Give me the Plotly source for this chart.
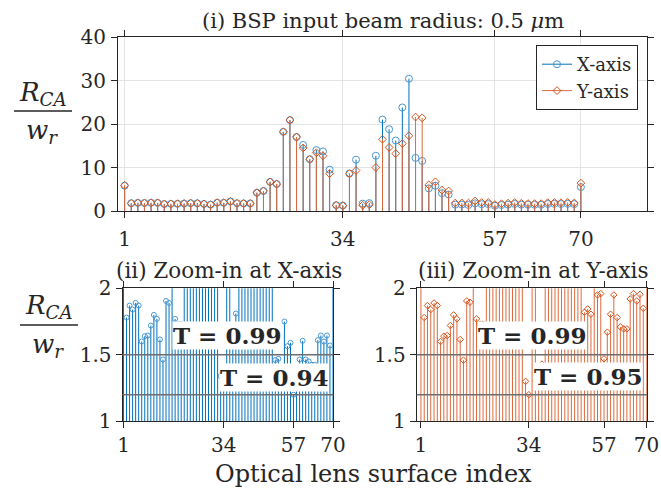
import plotly.graph_objects as go

# ---------------- data ----------------
surface_index = list(range(1, 71))
x_axis_ratio = [5.8, 1.78, 1.87, 1.84, 1.89, 1.87, 1.60, 1.64, 1.645, 1.72,
                1.80, 1.77, 1.615, 1.465, 1.905, 1.89, 2.2, 1.77, 1.73, 1.73,
                4.2, 4.6, 6.7, 6.2, 18.2, 20.9, 17.0, 15.2, 11.9, 14.0,
                13.7, 9.5, 1.34, 1.25, 8.6, 11.8, 1.69, 1.81, 12.7, 21.0,
                18.8, 16.2, 23.8, 30.4, 12.2, 11.5, 5.2, 5.8, 4.1, 3.8,
                1.46, 1.47, 1.39, 1.75, 1.565, 1.59, 1.20, 1.37, 1.465, 1.605,
                1.465, 1.45, 1.425, 1.425, 1.61, 1.645, 1.60, 1.645, 1.57, 5.5]
y_axis_ratio = [5.9, 1.78, 1.87, 1.84, 1.89, 1.87, 1.60, 1.64, 1.645, 1.72,
                1.80, 1.77, 1.615, 1.46, 1.905, 1.895, 2.2, 1.77, 1.73, 1.73,
                4.2, 4.6, 6.7, 6.2, 18.2, 20.9, 17.0, 14.5, 11.9, 13.4,
                12.7, 8.6, 1.30, 1.20, 8.6, 9.3, 1.32, 1.43, 10.0, 16.5,
                14.6, 13.2, 15.5, 17.3, 21.6, 21.4, 6.0, 6.7, 4.8, 4.6,
                1.82, 1.845, 1.805, 2.3, 1.95, 1.96, 1.47, 1.67, 1.805, 1.95,
                1.78, 1.71, 1.695, 1.695, 1.92, 1.96, 1.905, 1.955, 1.85, 6.4]
x_tick_vals = [1, 34, 57, 70]
top_y_ticks = [0, 10, 20, 30, 40]
zoom_y_ticks = [1, 1.5, 2]
zoom_y_labels = ["1", "1.5", "2"]
thresholds = [1.5, 1.2]
x_thresh_labels = ["T = 0.99", "T = 0.94"]
y_thresh_labels = ["T = 0.99", "T = 0.95"]

# ---------------- style ----------------
W, H = 661, 494
FONT = "DejaVu Serif"
TXT = "#262626"
BLUE_LINE = "#0072BD"
BLUE_MK = "#4A98D3"
ORANGE_LINE = "#DD6A3C"
ORANGE_MK = "#D95319"


def px(x):
    return x / W


def py(y):
    return 1 - y / H


def stems(xs, vs, base=0.0):
    sx, sy = [], []
    for x, v in zip(xs, vs):
        sx += [x, x, None]
        sy += [base, v, None]
    return sx, sy


fig = go.Figure()

panels = [("x", "y", 7, 6, ("X-axis", "Y-axis")),
          ("x2", "y2", 5, 5, ("X-axis",)),
          ("x3", "y3", 5, 5, ("Y-axis",))]
series = [
    ("X-axis", x_axis_ratio, BLUE_LINE, BLUE_MK, "circle-open"),
    ("Y-axis", y_axis_ratio, ORANGE_LINE, ORANGE_MK, "diamond-open"),
]

for xa, ya, csize, dsize, names in panels:
    for name, vals, lc, mc, sym in series:
        if name not in names:
            continue
        sx, sy = stems(surface_index, vals)
        fig.add_trace(go.Scatter(x=sx, y=sy, mode="lines", xaxis=xa, yaxis=ya,
                                 line=dict(color=lc, width=1), showlegend=False,
                                 hoverinfo="skip"))
        fig.add_trace(go.Scatter(x=surface_index, y=vals, mode="markers", xaxis=xa, yaxis=ya,
                                 marker=dict(symbol=sym, size=csize if sym.startswith("circle") else dsize,
                                             color=mc, line=dict(color=mc, width=1)),
                                 showlegend=False, name=name))

# legend entries
for name, vals, lc, mc, sym in series:
    fig.add_trace(go.Scatter(x=[None], y=[None], mode="lines+markers", name=name,
                             line=dict(color=lc, width=1),
                             marker=dict(symbol=sym, size=7 if sym.startswith("circle") else 6,
                                         color=mc, line=dict(color=mc, width=1)),
                             xaxis="x", yaxis="y"))

axis_common = dict(showline=True, linecolor=TXT, linewidth=1, mirror="ticks",
                   ticks="outside", ticklen=6, tickcolor=TXT, tickwidth=1,
                   zeroline=False, automargin=False,
                   tickfont=dict(family=FONT, size=20, color=TXT))

fig.update_layout(
    template="none",
    width=W, height=H, margin=dict(l=0, r=0, t=0, b=0, pad=0),
    paper_bgcolor="white", plot_bgcolor="white",
    font=dict(family=FONT, color=TXT),
    showlegend=True,
    legend=dict(x=px(638), y=py(45), xanchor="right", yanchor="top",
                bgcolor="white", bordercolor=TXT, borderwidth=1,
                font=dict(family=FONT, size=18, color=TXT),
                tracegroupgap=0, itemwidth=30),
    xaxis=dict(domain=[px(118), px(647)], anchor="y", range=[0, 80],
               tickvals=x_tick_vals, showgrid=True, gridcolor="#E3E3E3", gridwidth=1,
               ticklabelstandoff=4, **axis_common),
    yaxis=dict(domain=[py(211), py(37)], anchor="x", range=[0, 40],
               tickvals=top_y_ticks, showgrid=True, gridcolor="#E3E3E3", gridwidth=1,
               ticklabelstandoff=1, **axis_common),
    xaxis2=dict(domain=[px(122.5), px(333.3)], anchor="y2", range=[0.67, 70.1],
                tickvals=x_tick_vals, showgrid=False, ticklabelstandoff=0, **axis_common),
    yaxis2=dict(domain=[py(421.3), py(288.3)], anchor="x2", range=[1, 2],
                tickvals=zoom_y_ticks, ticktext=zoom_y_labels, showgrid=False,
                ticklabelstandoff=0, **axis_common),
    xaxis3=dict(domain=[px(416.7), px(646.7)], anchor="y3", range=[-0.3, 70.05],
                tickvals=x_tick_vals, showgrid=False, ticklabelstandoff=0, **axis_common),
    yaxis3=dict(domain=[py(421.3), py(288.3)], anchor="x3", range=[1, 2],
                tickvals=zoom_y_ticks, ticktext=zoom_y_labels, showgrid=False,
                ticklabelstandoff=0, **axis_common),
)

# threshold lines
for xa, ya in (("x2", "y2"), ("x3", "y3")):
    for t in thresholds:
        fig.add_shape(type="line", xref=f"{xa} domain", yref=ya, x0=0, x1=1, y0=t, y1=t,
                      line=dict(color="#6E6E6E", width=1.5), layer="above")

ann = []


def text(x, y, s, size, **kw):
    ann.append(dict(x=px(x), y=py(y), xref="paper", yref="paper", text=s, showarrow=False,
                    xanchor=kw.pop("xanchor", "center"), yanchor=kw.pop("yanchor", "middle"),
                    font=dict(family=FONT, size=size, color=TXT), **kw))


text(383, 21, "(i) BSP input beam radius: 0.5 <i>μ</i>m", 21)
text(229, 270, "(ii) Zoom-in at X-axis", 21.5)
text(533, 270, "(iii) Zoom-in at Y-axis", 21.5)
text(373, 474, "Optical lens surface index", 24)

# threshold labels
bold = lambda s: "<b>" + s + "</b>"
text(227, 335, bold(x_thresh_labels[0]), 23, bgcolor="white", borderpad=0)
text(274, 377, bold(x_thresh_labels[1]), 23, bgcolor="white", borderpad=0)
text(532, 335, bold(y_thresh_labels[0]), 23, bgcolor="white", borderpad=0)
text(588, 376, bold(y_thresh_labels[1]), 23, bgcolor="white", borderpad=0)

# y-axis fraction labels
for cx, ny, ly, dy, x0, x1 in ((43, 93, 111, 131, 14, 72), (49, 306, 325, 345, 20, 78)):
    text(cx, ny, "<i>R</i><sub><i>CA</i></sub>", 26)
    text(cx - 1, dy, "<i>w</i><sub><i>r</i></sub>", 26)
    fig.add_shape(type="line", xref="paper", yref="paper", x0=px(x0), x1=px(x1),
                  y0=py(ly), y1=py(ly), line=dict(color=TXT, width=1.5))

fig.update_layout(annotations=ann)
fig.write_html("out.html")
